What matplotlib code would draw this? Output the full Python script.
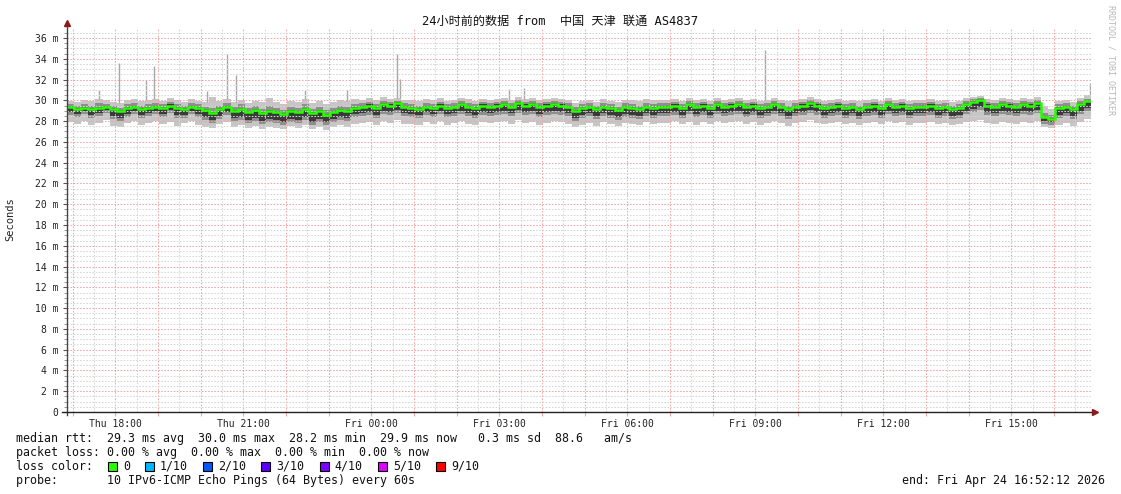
import datetime as dt
import numpy as np
import matplotlib
matplotlib.use("Agg")
import matplotlib.pyplot as plt
import matplotlib.dates as mdates
from matplotlib.patches import Rectangle
from matplotlib.lines import Line2D

# ---------------- data ----------------
start = dt.datetime(2026, 4, 23, 16, 52, 12)
end = dt.datetime(2026, 4, 24, 16, 52, 12)
step_min = 10

median_ms = [
    29.4, 29.2, 29.3, 29.2, 29.3, 29.4, 29.2, 29.0, 29.3, 29.4, 29.2, 29.3,
    29.4, 29.3, 29.5, 29.3, 29.2, 29.4, 29.3, 29.1, 28.8, 29.2, 29.4, 29.0,
    29.2, 28.9, 29.1, 28.8, 29.0, 28.9, 28.7, 29.0, 28.9, 29.2, 28.8, 29.0,
    28.6, 28.9, 29.1, 29.0, 29.3, 29.4, 29.5, 29.3, 29.6, 29.5, 29.7, 29.4,
    29.3, 29.2, 29.4, 29.3, 29.5, 29.3, 29.4, 29.6, 29.4, 29.3, 29.5, 29.4,
    29.5, 29.6, 29.4, 29.7, 29.5, 29.6, 29.4, 29.5, 29.6, 29.5, 29.4, 29.0,
    29.3, 29.4, 29.2, 29.4, 29.3, 29.1, 29.4, 29.3, 29.2, 29.4, 29.3, 29.4,
    29.4, 29.5, 29.3, 29.6, 29.4, 29.5, 29.3, 29.6, 29.4, 29.5, 29.6, 29.4,
    29.5, 29.3, 29.4, 29.6, 29.4, 29.2, 29.4, 29.5, 29.7, 29.5, 29.3, 29.4,
    29.5, 29.3, 29.4, 29.2, 29.4, 29.5, 29.3, 29.6, 29.4, 29.5, 29.3, 29.4,
    29.4, 29.5, 29.3, 29.4, 29.2, 29.3, 29.6, 29.8, 30.0, 29.5, 29.4, 29.6,
    29.5, 29.4, 29.6, 29.5, 29.7, 28.4, 28.2, 29.3, 29.4, 29.2, 29.6, 29.9,
]

smoke_min = [
    27.9, 27.7, 28.0, 27.6, 27.8, 28.1, 27.5, 27.4, 27.8, 28.0, 27.6, 27.8,
    28.0, 27.7, 27.9, 27.5, 27.8, 28.0, 27.6, 27.4, 27.3, 27.7, 27.9, 27.4,
    27.6, 27.3, 27.5, 27.2, 27.4, 27.3, 27.2, 27.5, 27.3, 27.6, 27.2, 27.4,
    27.1, 27.4, 27.6, 27.4, 27.7, 27.8, 27.9, 27.6, 28.0, 27.8, 28.1, 27.7,
    27.7, 27.6, 27.9, 27.7, 28.0, 27.6, 27.8, 28.0, 27.7, 27.6, 27.9, 27.8,
    27.9, 28.0, 27.7, 28.1, 27.8, 27.9, 27.6, 27.8, 28.0, 27.9, 27.7, 27.4,
    27.6, 27.8, 27.5, 27.9, 27.7, 27.5, 27.8, 27.7, 27.6, 27.9, 27.7, 27.8,
    27.8, 28.0, 27.7, 27.9, 27.6, 27.9, 27.7, 28.0, 27.8, 27.9, 28.0, 27.7,
    27.9, 27.6, 27.8, 28.0, 27.8, 27.5, 27.8, 27.9, 28.1, 27.8, 27.7, 27.8,
    27.9, 27.7, 27.8, 27.6, 27.8, 27.9, 27.7, 28.0, 27.8, 27.9, 27.6, 27.8,
    27.8, 27.9, 27.7, 27.8, 27.6, 27.7, 27.9, 28.0, 28.1, 27.8, 27.7, 27.9,
    27.8, 27.7, 27.9, 27.8, 28.0, 27.4, 27.3, 27.6, 27.8, 27.5, 27.9, 28.2,
]

smoke_max = [
    29.9, 29.8, 30.0, 29.9, 30.1, 30.0, 29.8, 29.7, 30.0, 30.1, 29.9, 30.0,
    30.1, 29.9, 30.2, 30.0, 29.8, 30.1, 29.9, 29.8, 30.3, 29.9, 30.1, 29.8,
    30.0, 29.7, 29.9, 29.8, 30.2, 29.8, 29.6, 29.9, 29.8, 30.1, 29.7, 29.9,
    29.6, 29.8, 30.0, 29.9, 30.1, 30.0, 30.2, 30.0, 30.3, 30.1, 30.2, 30.0,
    30.0, 29.9, 30.1, 30.0, 30.2, 29.9, 30.0, 30.2, 30.1, 29.9, 30.1, 30.0,
    30.1, 30.2, 30.0, 30.3, 30.1, 30.2, 30.0, 30.1, 30.2, 30.1, 30.0, 29.7,
    29.9, 30.0, 29.8, 30.1, 29.9, 29.8, 30.0, 30.0, 29.9, 30.1, 30.0, 30.0,
    30.0, 30.1, 29.9, 30.2, 30.0, 30.1, 29.9, 30.2, 30.0, 30.1, 30.2, 30.0,
    30.1, 29.9, 30.0, 30.2, 30.0, 29.9, 30.0, 30.1, 30.3, 30.1, 29.9, 30.0,
    30.1, 29.9, 30.0, 29.9, 30.0, 30.1, 29.9, 30.2, 30.0, 30.1, 29.9, 30.0,
    30.0, 30.1, 29.9, 30.0, 29.8, 29.9, 30.2, 30.3, 30.4, 30.1, 30.0, 30.2,
    30.1, 30.0, 30.2, 30.1, 30.3, 29.5, 29.2, 29.9, 30.0, 29.8, 30.2, 30.5,
]

smoke_inner_lo = [
    28.6, 28.4, 28.7, 28.3, 28.5, 28.8, 28.2, 28.0, 28.4, 28.7, 28.3, 28.5,
    28.7, 28.4, 28.8, 28.3, 28.3, 28.7, 28.4, 28.1, 27.8, 28.2, 28.6, 28.0,
    28.1, 27.8, 28.0, 27.7, 27.9, 27.8, 27.6, 27.9, 27.8, 28.1, 27.6, 27.9,
    27.6, 27.9, 28.1, 28.0, 28.4, 28.5, 28.6, 28.3, 28.7, 28.6, 28.8, 28.5,
    28.4, 28.3, 28.6, 28.4, 28.7, 28.4, 28.5, 28.7, 28.5, 28.3, 28.6, 28.5,
    28.6, 28.7, 28.5, 28.8, 28.6, 28.7, 28.4, 28.6, 28.7, 28.6, 28.5, 28.0,
    28.3, 28.5, 28.2, 28.5, 28.3, 28.1, 28.4, 28.3, 28.2, 28.5, 28.3, 28.5,
    28.5, 28.6, 28.3, 28.7, 28.4, 28.6, 28.3, 28.7, 28.5, 28.6, 28.7, 28.4,
    28.6, 28.3, 28.5, 28.7, 28.5, 28.2, 28.5, 28.6, 28.8, 28.6, 28.3, 28.5,
    28.6, 28.3, 28.5, 28.2, 28.5, 28.6, 28.3, 28.7, 28.5, 28.6, 28.3, 28.5,
    28.5, 28.6, 28.3, 28.5, 28.2, 28.3, 28.7, 28.9, 29.1, 28.6, 28.5, 28.7,
    28.6, 28.5, 28.7, 28.6, 28.8, 27.7, 27.6, 28.3, 28.5, 28.2, 28.7, 29.0,
]

smoke_inner_hi = [
    29.6, 29.5, 29.6, 29.5, 29.7, 29.6, 29.5, 29.3, 29.6, 29.7, 29.5, 29.6,
    29.7, 29.6, 29.8, 29.6, 29.5, 29.7, 29.6, 29.4, 29.3, 29.5, 29.7, 29.4,
    29.6, 29.3, 29.5, 29.2, 29.5, 29.3, 29.1, 29.4, 29.3, 29.6, 29.2, 29.4,
    29.1, 29.3, 29.5, 29.4, 29.6, 29.7, 29.8, 29.6, 29.9, 29.8, 29.9, 29.7,
    29.6, 29.5, 29.7, 29.6, 29.8, 29.6, 29.7, 29.9, 29.7, 29.6, 29.8, 29.7,
    29.8, 29.9, 29.7, 30.0, 29.8, 29.9, 29.7, 29.8, 29.9, 29.8, 29.7, 29.4,
    29.6, 29.7, 29.5, 29.7, 29.6, 29.4, 29.7, 29.6, 29.5, 29.7, 29.6, 29.7,
    29.7, 29.8, 29.6, 29.9, 29.7, 29.8, 29.6, 29.9, 29.7, 29.8, 29.9, 29.7,
    29.8, 29.6, 29.7, 29.9, 29.7, 29.5, 29.7, 29.8, 30.0, 29.8, 29.6, 29.7,
    29.8, 29.6, 29.7, 29.5, 29.7, 29.8, 29.6, 29.9, 29.7, 29.8, 29.6, 29.7,
    29.7, 29.8, 29.6, 29.7, 29.5, 29.6, 29.9, 30.1, 30.2, 29.8, 29.7, 29.9,
    29.8, 29.7, 29.9, 29.8, 30.0, 28.8, 28.6, 29.6, 29.7, 29.5, 29.9, 30.1,
]

# single-ping outliers: minutes after start, top value (ms)
spike_minutes = [45, 73, 111, 122, 197, 225, 238, 335, 394, 464, 468, 622, 643, 982, 1438]
spike_tops = [31.0, 33.6, 32.0, 33.3, 30.9, 34.5, 32.4, 31.0, 31.0, 34.5, 32.1, 31.1, 31.2, 34.8, 31.7]

y_ticks = list(range(0, 37, 2))
y_tick_labels = ["0"] + [f"{v} m" for v in y_ticks[1:]]
x_tick_labels = ["Thu 18:00", "Thu 21:00", "Fri 00:00", "Fri 03:00",
                 "Fri 06:00", "Fri 09:00", "Fri 12:00", "Fri 15:00"]

title = "24小时前的数据 from  中国 天津 联通 AS4837"
legend_lines = [
    "median rtt:  29.3 ms avg  30.0 ms max  28.2 ms min  29.9 ms now   0.3 ms sd  88.6   am/s",
    "packet loss: 0.00 % avg  0.00 % max  0.00 % min  0.00 % now",
    "loss color:",
    "probe:       10 IPv6-ICMP Echo Pings (64 Bytes) every 60s",
]
loss_labels = ["0", "1/10", "2/10", "3/10", "4/10", "5/10", "9/10"]
loss_colors = ["#26ff00", "#00b8ff", "#0059ff", "#5e00ff", "#7e00ff", "#dd00ff", "#ff0000"]
end_text = "end: Fri Apr 24 16:52:12 2026"

# ---------------- figure ----------------
W, H = 1121, 494
fig = plt.figure(figsize=(W / 100, H / 100), dpi=100)
fig.patch.set_facecolor("white")

x0, x1, ybot, ytop = 67, 1091, 412, 27.6
ax = fig.add_axes([x0 / W, (H - ybot) / H, (x1 - x0) / W, (ybot - ytop) / H])
ax.set_facecolor("white")
for s in ax.spines.values():
    s.set_visible(False)

n = len(median_ms)
edges = mdates.date2num([start + dt.timedelta(minutes=step_min * i) for i in range(n + 1)])
ax.set_xlim(mdates.date2num(start), mdates.date2num(end))
ax.set_ylim(0, 37)

# grid
mono = "DejaVu Sans Mono"
first_hour = start.replace(minute=0, second=0) + dt.timedelta(hours=1)
half_hours = [first_hour - dt.timedelta(minutes=30) + dt.timedelta(minutes=30 * k) for k in range(49)]
for t in half_hours:
    if start < t < end:
        red = (t.minute == 0)
        ax.axvline(mdates.date2num(t), color="#f2a6a6" if red else "#d6d6d6",
                   lw=0.75, dashes=(1.5, 1.5), zorder=2)
for k in range(1, 74):
    v = k * 0.5
    red = (k % 4 == 0)
    ax.axhline(v, color="#f2a6a6" if red else "#d6d6d6", lw=0.75, dashes=(1.5, 1.5), zorder=2)

# smoke
ax.stairs(smoke_max, edges, baseline=smoke_min, fill=True, color="#c6c6c6", lw=0, zorder=1)
ax.stairs(smoke_inner_hi, edges, baseline=smoke_inner_lo, fill=True, color="#8e8e8e", lw=0, zorder=1.1)
ax.stairs(np.array(median_ms) + 0.1, edges, baseline=np.array(smoke_inner_lo) + 0.3,
          fill=True, color="#3a3a3a", lw=0, zorder=1.2)

# outlier spikes
spike_x = mdates.date2num([start + dt.timedelta(minutes=m) for m in spike_minutes])
spike_base = [smoke_max[min(int(m // step_min), n - 1)] for m in spike_minutes]
ax.vlines(spike_x, spike_base, spike_tops, color="#a8a8a8", lw=1.0, zorder=1.3)

# median
ax.stairs(median_ms, edges, baseline=None, color="#26ff00", lw=1.8, zorder=3)

# ticks
ax.set_yticks(y_ticks, y_tick_labels, fontfamily=mono, fontsize=7)
ax.set_yticks(np.arange(0.5, 37, 0.5), minor=True)
ax.tick_params(axis="y", which="major", length=3, width=0.8, color="#555555", pad=3, labelcolor="#222222")
ax.tick_params(axis="y", which="minor", length=2, width=0.6, color="#888888")
label_times = [first_hour + dt.timedelta(hours=1 + 3 * k) for k in range(len(x_tick_labels))]
ax.set_xticks(mdates.date2num(label_times), x_tick_labels, fontfamily=mono, fontsize=7)
ax.set_xticks(mdates.date2num([first_hour + dt.timedelta(hours=k) for k in range(24)]), minor=True)
ax.tick_params(axis="x", which="both", length=3, width=0.8, color="#f2a6a6", pad=2, labelcolor="#222222")

# axis lines with arrows (figure pixel space)
def fx(px):
    return px / W

def fy(py):
    return 1 - py / H

fig.add_artist(Line2D([fx(67), fx(67)], [fy(415), fy(24)], color="#444444", lw=1.0))
fig.add_artist(Line2D([fx(62), fx(1094)], [fy(412), fy(412)], color="#222222", lw=1.0))
fig.add_artist(Line2D([fx(67)], [fy(23)], marker="^", markersize=4.5, color="#8b1a1a", lw=0))
fig.add_artist(Line2D([fx(1095)], [fy(412)], marker=">", markersize=4.5, color="#8b1a1a", lw=0))

# texts
fig.text(0.5, fy(21), title, ha="center", va="center", fontsize=8.7,
         family=[mono, "Noto Sans CJK SC"], color="#111111")
fig.text(fx(10), fy(219), "Seconds", rotation=90, ha="center", va="center",
         fontsize=7.5, family=mono, color="#222222")
fig.text(fx(1111), fy(5), "RRDTOOL / TOBI OETIKER", rotation=270, ha="center", va="top",
         fontsize=6, family=mono, color="#b8b8b8")

cw = 7.05
for line, py in zip(legend_lines, [438, 452, 466, 480]):
    fig.text(fx(16), fy(py), line, ha="left", va="center", fontsize=8.4, family=mono, color="#111111")
fig.text(fx(1105), fy(480), end_text, ha="right", va="center", fontsize=8.4, family=mono, color="#111111")

bx = 108
for lab, col in zip(loss_labels, loss_colors):
    fig.add_artist(Rectangle((fx(bx), fy(470.5)), 9 / W, 9 / H, facecolor=col,
                             edgecolor="#000000", lw=0.8, transform=fig.transFigure))
    fig.text(fx(bx + 15), fy(466), lab, ha="left", va="center", fontsize=8.4, family=mono, color="#111111")
    bx += 15 + len(lab) * cw + 15

fig.savefig("out.png", dpi=100)
